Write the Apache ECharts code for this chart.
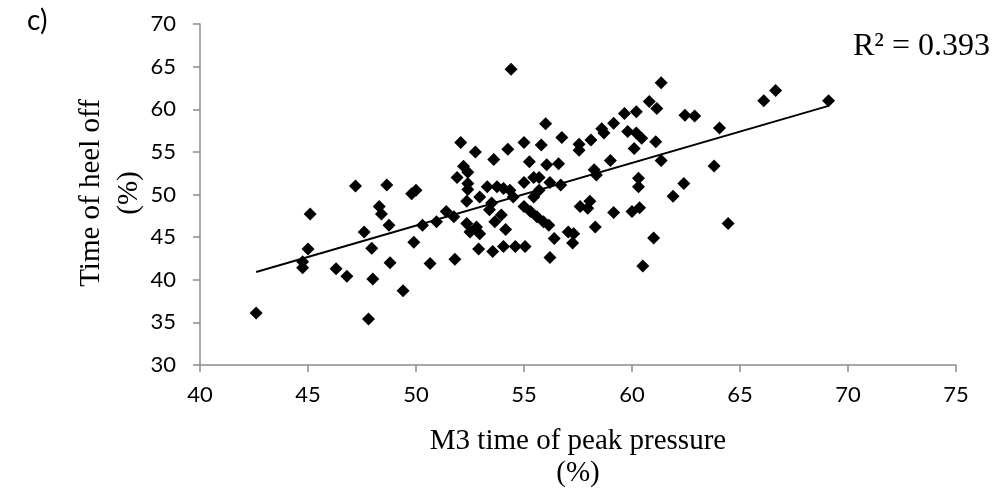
<!DOCTYPE html>
<html>
<head>
<meta charset="utf-8">
<script src="https://cdn.jsdelivr.net/npm/echarts@6/dist/echarts.min.js"></script>
<style>
  html, body { margin: 0; padding: 0; background: #fff; }
  #chart { width: 995px; height: 494px; }
</style>
</head>
<body>
<div id="chart"></div>
<script>
// M3 time of peak pressure (%)
const peakTime = [
  42.6, 44.75, 44.75, 45.0, 45.1, 46.3, 46.8, 47.2, 47.6, 47.95,
  48.0, 47.8, 48.3, 48.4, 48.75, 48.65, 48.8, 49.4, 49.9, 49.8,
  50.0, 50.65, 50.3, 50.95, 51.4, 51.75, 51.8, 52.07, 52.75, 53.6,
  52.2, 52.4, 51.9, 52.4, 52.4, 52.95, 53.3, 53.75, 52.35, 53.5,
  53.4, 52.35, 52.8, 52.5, 52.95, 53.65, 52.9, 53.55, 54.4, 56.0,
  56.75, 57.55, 57.55, 58.1, 58.6, 55.0, 55.8, 54.25, 55.25, 56.05,
  56.6, 58.25, 58.35, 55.45, 55.7, 55.0, 56.2, 56.7, 54.05, 54.35,
  54.5, 55.45, 55.7, 57.6, 58.05, 57.95, 55.0, 55.3, 55.6, 55.9,
  56.15, 53.95, 54.15, 58.3, 56.4, 57.05, 57.3, 54.05, 54.6, 55.05,
  56.2, 57.25, 61.35, 60.8, 61.15, 62.45, 62.9, 59.65, 60.2, 59.15,
  58.7, 59.8, 60.2, 60.45, 61.1, 60.1, 59.0, 61.35, 60.3, 60.3,
  62.4, 61.9, 59.15, 60.0, 60.35, 61.0, 60.5, 66.65, 66.1, 69.1,
  64.05, 63.8, 64.45
];
// Time of heel off (%)
const heelOff = [
  36.1, 42.1, 41.4, 43.6, 47.7, 41.3, 40.4, 51.0, 45.6, 43.7,
  40.1, 35.4, 48.6, 47.7, 46.4, 51.1, 42.0, 38.7, 44.4, 50.1,
  50.5, 41.9, 46.4, 46.8, 48.0, 47.4, 42.4, 56.1, 55.0, 54.1,
  53.3, 52.6, 52.0, 51.3, 50.6, 49.7, 50.9, 50.9, 49.2, 49.0,
  48.2, 46.6, 46.2, 45.6, 45.4, 46.8, 43.6, 43.3, 64.7, 58.3,
  56.7, 55.9, 55.2, 56.4, 57.7, 56.1, 55.8, 55.3, 53.85, 53.5,
  53.6, 52.9, 52.3, 52.0, 52.0, 51.4, 51.4, 51.1, 50.7, 50.5,
  49.7, 49.7, 50.5, 48.6, 49.2, 48.4, 48.6, 48.0, 47.4, 46.8,
  46.4, 47.6, 45.9, 46.2, 44.85, 45.6, 45.4, 43.9, 43.9, 43.9,
  42.6, 44.3, 63.1, 60.9, 60.1, 59.3, 59.2, 59.5, 59.7, 58.35,
  57.2, 57.4, 57.2, 56.6, 56.2, 55.4, 54.0, 54.0, 51.9, 50.9,
  51.3, 49.8, 47.9, 48.0, 48.45, 44.9, 41.6, 62.2, 61.0, 61.0,
  57.8, 53.35, 46.6
];
const xTicks = [40, 45, 50, 55, 60, 65, 70, 75];
const yTicks = [30, 35, 40, 45, 50, 55, 60, 65, 70];
const rSquaredLabel = 'R\u00B2 = 0.393';

const points = peakTime.map((x, i) => [x, heelOff[i]]);

// least-squares linear trend across the observed range
const n = points.length;
const mx = peakTime.reduce((a, b) => a + b, 0) / n;
const my = heelOff.reduce((a, b) => a + b, 0) / n;
let sxy = 0, sxx = 0;
for (let i = 0; i < n; i++) {
  sxy += (peakTime[i] - mx) * (heelOff[i] - my);
  sxx += (peakTime[i] - mx) * (peakTime[i] - mx);
}
const slope = sxy / sxx;
const intercept = my - slope * mx;
const xMin = Math.min(...peakTime), xMax = Math.max(...peakTime);
const trend = [[xMin, intercept + slope * xMin], [xMax, intercept + slope * xMax]];

const axisGray = '#8c8c8c';
const tickFont = 'Lato, "Open Sans", sans-serif';
const serif = '"Liberation Serif", "DejaVu Serif", serif';

const chart = echarts.init(document.getElementById('chart'), null, { renderer: 'canvas' });
chart.setOption({
  animation: false,
  backgroundColor: '#ffffff',
  grid: { left: 200, right: 39, top: 24, bottom: 129, containLabel: false },
  xAxis: {
    type: 'value',
    min: xTicks[0], max: xTicks[xTicks.length - 1], interval: 5,
    axisLine: { show: true, lineStyle: { color: axisGray, width: 1.5 } },
    axisTick: { show: true, inside: false, length: 7, lineStyle: { color: axisGray, width: 1.5 } },
    axisLabel: { color: '#000', fontFamily: tickFont, fontSize: 22, margin: 19 },
    splitLine: { show: false }
  },
  yAxis: {
    type: 'value',
    min: yTicks[0], max: yTicks[yTicks.length - 1], interval: 5,
    axisLine: { show: true, lineStyle: { color: axisGray, width: 1.5 } },
    axisTick: { show: true, inside: false, length: 7, lineStyle: { color: axisGray, width: 1.5 } },
    axisLabel: { color: '#000', fontFamily: tickFont, fontSize: 22, margin: 24 },
    splitLine: { show: false }
  },
  series: [
    {
      type: 'scatter',
      data: points,
      symbol: 'diamond',
      symbolSize: 13,
      itemStyle: { color: '#000', opacity: 1 },
      z: 3
    },
    {
      type: 'line',
      data: trend,
      symbol: 'none',
      lineStyle: { color: '#000', width: 2 },
      z: 2
    }
  ],
  graphic: [
    {
      type: 'text', x: 27, y: 21,
      style: {
        text: 'c)', fontFamily: tickFont, fontSize: 28, fill: '#000',
        align: 'left', verticalAlign: 'middle'
      }
    },
    {
      type: 'text', x: 110, y: 193, rotation: Math.PI / 2,
      style: {
        text: 'Time of heel off\n(%)', fontFamily: serif, fontSize: 29, fill: '#000',
        align: 'center', verticalAlign: 'middle', lineHeight: 38
      }
    },
    {
      type: 'text', x: 578, y: 457,
      style: {
        text: 'M3 time of peak pressure\n(%)', fontFamily: serif, fontSize: 29, fill: '#000',
        align: 'center', verticalAlign: 'middle', lineHeight: 32
      }
    },
    {
      type: 'text', x: 990, y: 47,
      style: {
        text: rSquaredLabel, fontFamily: serif, fontSize: 32, fill: '#000',
        align: 'right', verticalAlign: 'middle'
      }
    }
  ]
});
</script>
</body>
</html>
